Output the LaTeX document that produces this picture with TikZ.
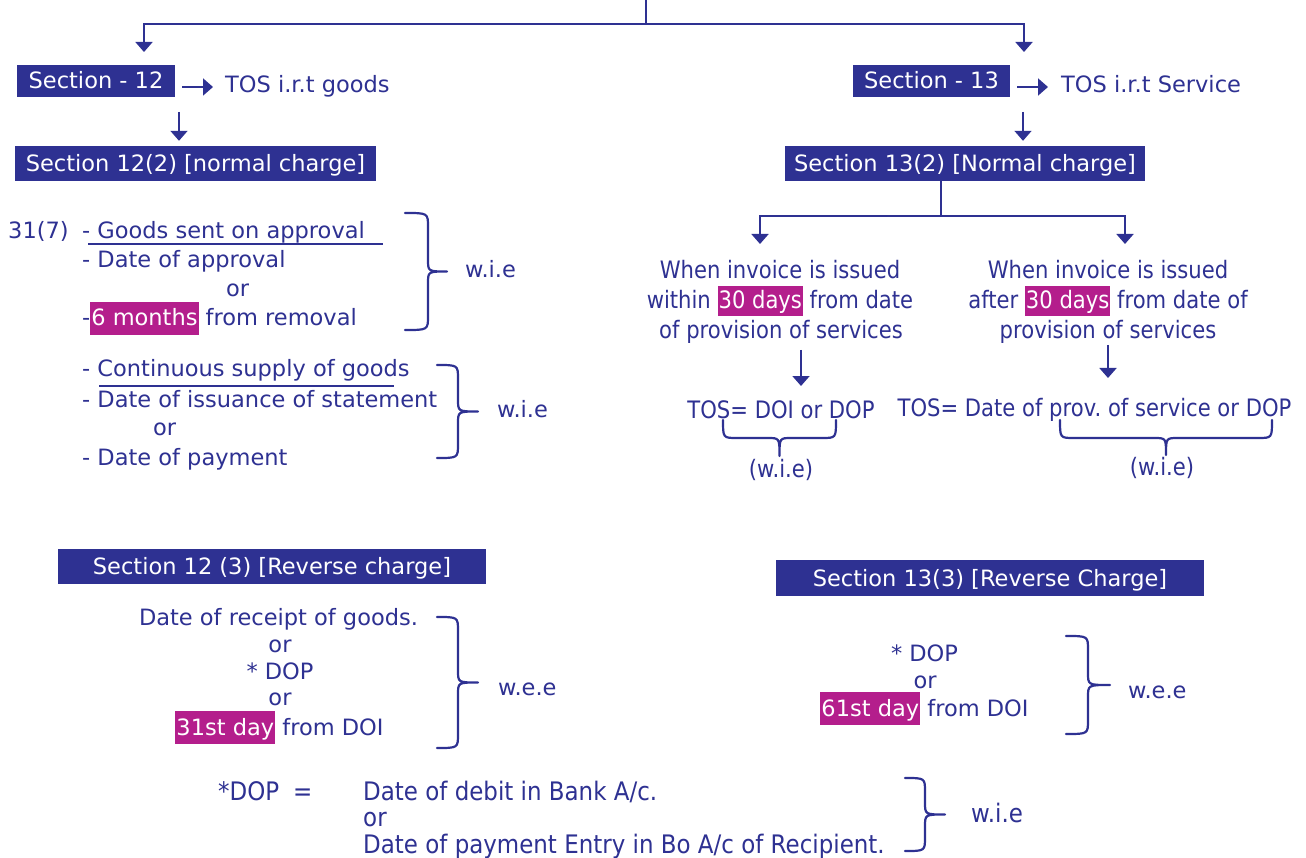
\documentclass[tikz,border=0pt]{standalone}
\usepackage{fontspec}
\setmainfont{DejaVu Sans}
\newfontfamily\narrowfont[FakeStretch=0.88]{DejaVu Sans}
\newfontfamily\lownarrow[FakeStretch=0.9]{DejaVu Sans}
\usetikzlibrary{arrows.meta,calc}
\definecolor{navy}{RGB}{46,49,146}
\definecolor{hlc}{RGB}{180,30,140}
\frenchspacing
% magenta marker behind white words
\newcommand\hlite[1]{{\setlength\fboxsep{0pt}\colorbox{hlc}{\rule[-9pt]{0pt}{33pt}\kern1pt\textcolor{white}{#1}\kern1pt}}}
\newcommand\hlnarrow[1]{{\setlength\fboxsep{0pt}\colorbox{hlc}{\rule[-7pt]{0pt}{30pt}\kern1pt\textcolor{white}{#1}\kern1pt}}}
% right curly brace: end x, top y, bottom y, spine x, tip x
\newcommand\curlyR[5]{%
  \draw[brc] (#1,#2) .. controls ({#4},{#2}) .. ({#4},{#2+14})
    -- ({#4},{(#2+#3)/2-12}) .. controls ({#4},{(#2+#3)/2}) .. ({#5},{(#2+#3)/2})
    .. controls ({#4},{(#2+#3)/2}) .. ({#4},{(#2+#3)/2+12})
    -- ({#4},{#3-14}) .. controls ({#4},{#3}) .. (#1,#3);}
% under brace: end y, left x, right x, spine y, tip y
\newcommand\curlyU[5]{%
  \draw[brc] (#2,#1) .. controls (#2,#4) .. ({#2+14},#4)
    -- ({(#2+#3)/2-12},#4) .. controls ({(#2+#3)/2},#4) .. ({(#2+#3)/2},#5)
    .. controls ({(#2+#3)/2},#4) .. ({(#2+#3)/2+12},#4)
    -- ({#3-14},#4) .. controls (#3,#4) .. (#3,#1);}
\begin{document}
\begin{tikzpicture}[x=1pt,y=-1pt,
  every node/.style={inner sep=0pt, text=navy},
  txt/.style={anchor=base west, font=\fontsize{22.5}{27}\selectfont},
  ctxt/.style={anchor=base, font=\fontsize{22.5}{27}\selectfont},
  ntxt/.style={anchor=base, font=\narrowfont\fontsize{24}{30}\selectfont},
  btxt/.style={anchor=base west, font=\lownarrow\fontsize{25.5}{30}\selectfont},
  secbox/.style={fill=navy, text=white, font=\fontsize{22.5}{27}\selectfont,
    text height=18pt, text depth=2pt, align=center},
  arr/.style={draw=navy, line width=1.8pt, -{Triangle[width=17pt,length=10pt]}},
  link/.style={draw=navy, line width=1.8pt},
  brc/.style={draw=navy, line width=2.2pt, line join=round, line cap=round},
  uline/.style={draw=navy, line width=1.6pt}]
\useasboundingbox (0,0) rectangle (1306,858);
\fill[white] (0,0) rectangle (1306,858);

% ---- top split ----
\coordinate (root) at (646,0);
\coordinate (fork) at (646,24);
\coordinate (t12) at (144,52);
\coordinate (t13) at (1024,52);
\draw[link] (root) -- (fork);
\draw[arr] (fork) -| (t12);
\draw[arr] (fork) -| (t13);

% ---- Section 12 ----
\node[secbox, minimum width=158pt, minimum height=32pt] (box12) at (96,81) {Section - 12};
\node[txt] (tos12) at (225,93) {TOS i.r.t goods};
\coordinate (a12) at (182,87);
\draw[arr, shorten >=12pt] (a12) -- (tos12.west |- a12);
\node[secbox, minimum width=361pt, minimum height=35pt] (sec122) at (195.5,163.5) {Section 12(2) [normal charge]};
\coordinate (d12) at (179,112);
\draw[arr, shorten >=5pt] (d12) -- (d12 |- sec122.north);

\node[txt] (n317) at (8,239) {31(7)};
\node[txt] (g1) at (82,239) {- Goods sent on approval};
\node[txt] (g2) at (82,268) {- Date of approval};
\node[txt] (g3) at (226,297) {or};
\node[txt] (g4) at (82,326) {-\hlite{6 months} from removal};
\draw[uline] (88,244) -- (383,244);
\curlyR{405}{213}{330}{428}{447}
\node[txt] (wie1) at (465,278) {w.i.e};

\node[txt] (c1) at (82,377) {- Continuous supply of goods};
\node[txt] (c2) at (82,407) {- Date of issuance of statement};
\node[txt] (c3) at (153,435) {or};
\node[txt] (c4) at (82,465) {- Date of payment};
\draw[uline] (99,386) -- (394,386);
\curlyR{437}{365}{458}{458}{478}
\node[txt] (wie2) at (497,417) {w.i.e};

% ---- Section 13 ----
\node[secbox, minimum width=157pt, minimum height=32pt] (box13) at (931.5,81) {Section - 13};
\node[txt] (tos13) at (1061,93) {TOS i.r.t Service};
\coordinate (a13) at (1017,87);
\draw[arr, shorten >=13pt] (a13) -- (tos13.west |- a13);
\node[secbox, minimum width=360pt, minimum height=35pt] (sec132) at (965,163.5) {Section 13(2) [Normal charge]};
\coordinate (d13) at (1023,112);
\draw[arr, shorten >=5pt] (d13) -- (d13 |- sec132.north);

\coordinate (sp) at (941,216);
\coordinate (ta) at (760,244);
\coordinate (tb) at (1125,244);
\draw[link] (sec132.south -| sp) -- (sp);
\draw[arr] (sp) -| (ta);
\draw[arr] (sp) -| (tb);

\node[ntxt] (w1a) at (780,279) {When invoice is issued};
\node[ntxt] (w1b) at (780,309) {within \hlnarrow{30 days} from date};
\node[ntxt] (w1c) at (781,339) {of provision of services};
\node[ntxt] (w2a) at (1108,279) {When invoice is issued};
\node[ntxt] (w2b) at (1108,309) {after \hlnarrow{30 days} from date of};
\node[ntxt] (w2c) at (1108,339) {provision of services};

\coordinate (wa) at (801,350);
\coordinate (wa2) at (801,386);
\draw[arr] (wa) -- (wa2);
\coordinate (wb) at (1108,345);
\coordinate (wb2) at (1108,378);
\draw[arr] (wb) -- (wb2);

\node[ntxt] (tosA) at (781,418) {TOS= DOI or DOP};
\node[ntxt] (tosB) at (1094.5,416) {TOS= Date of prov. of service or DOP};
\curlyU{420}{723}{836}{438}{456}
\curlyU{420}{1060}{1272}{438}{455}
\node[ntxt] (wieA) at (781,477) {(w.i.e)};
\node[ntxt] (wieB) at (1162,475) {(w.i.e)};

% ---- reverse charge, goods ----
\node[secbox, minimum width=428pt, minimum height=35pt] (sec123) at (272,566.5) {Section 12 (3) [Reverse charge]};
\node[ctxt] (r1) at (278.5,625) {Date of receipt of goods.};
\node[ctxt] (r2) at (280,652) {or};
\node[ctxt] (r3) at (280,679) {* DOP};
\node[ctxt] (r4) at (280,705) {or};
\node[ctxt] (r5) at (279.5,735) {\hlite{31st day} from DOI};
\curlyR{437}{617}{748}{458}{478}
\node[txt] (wee1) at (498,695) {w.e.e};

% ---- reverse charge, services ----
\node[secbox, minimum width=428pt, minimum height=36pt] (sec133) at (990,578) {Section 13(3) [Reverse Charge]};
\node[ctxt] (s1) at (924.5,661) {* DOP};
\node[ctxt] (s2) at (925,688) {or};
\node[ctxt] (s3) at (924.5,716) {\hlite{61st day} from DOI};
\curlyR{1066}{636}{734}{1088}{1110}
\node[txt] (wee2) at (1128,698) {w.e.e};

% ---- date of payment note ----
\node[btxt] (d0) at (218,800) {*DOP\hspace{14pt}=};
\node[btxt] (d1) at (363,800) {Date of debit in Bank A/c.};
\node[btxt] (d2) at (363,826) {or};
\node[btxt] (d3) at (363,853) {Date of payment Entry in Bo A/c of Recipient.};
\curlyR{905}{778}{851}{925}{945}
\node[btxt] (wie5) at (971,822) {w.i.e};
\end{tikzpicture}
\end{document}
